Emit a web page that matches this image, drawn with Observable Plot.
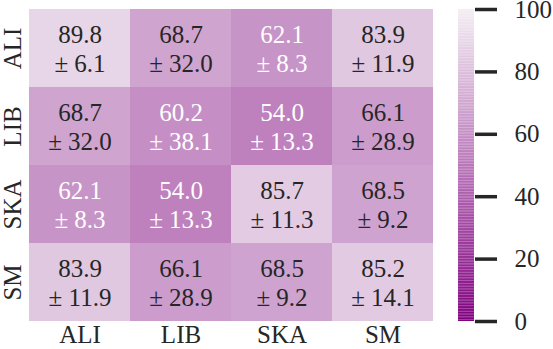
<!DOCTYPE html>
<html>
<head>
<meta charset="utf-8">
<script src="https://cdn.jsdelivr.net/npm/d3@7"></script>
<script src="https://cdn.jsdelivr.net/npm/@observablehq/plot@0.6"></script>
<style>
  html, body { margin: 0; padding: 0; background: #fff; }
  #wrap { position: relative; width: 553px; height: 349px; overflow: hidden; }
  #wrap svg { position: absolute; top: 0; overflow: visible; font-family: "Liberation Serif", "DejaVu Serif", serif; }
</style>
</head>
<body>
<div id="wrap"></div>
<script>
const rows = ["ALI", "LIB", "SKA", "SM"];
const cols = ["ALI", "LIB", "SKA", "SM"];
const meanALI = [89.8, 68.7, 62.1, 83.9];
const meanLIB = [68.7, 60.2, 54.0, 66.1];
const meanSKA = [62.1, 54.0, 85.7, 68.5];
const meanSM  = [83.9, 66.1, 68.5, 85.2];
const stdALI = [6.1, 32.0, 8.3, 11.9];
const stdLIB = [32.0, 38.1, 13.3, 28.9];
const stdSKA = [8.3, 13.3, 11.3, 9.2];
const stdSM  = [11.9, 28.9, 9.2, 14.1];
const colorbarTicks = [0, 20, 40, 60, 80, 100];

const means = [meanALI, meanLIB, meanSKA, meanSM];
const stds = [stdALI, stdLIB, stdSKA, stdSM];
const data = [];
rows.forEach((r, i) => cols.forEach((c, j) => data.push({row: r, col: c, mean: means[i][j], std: stds[i][j]})));

const colorScale = {type: "linear", domain: [0, 100], range: ["#800080", "#f3eef3"], interpolate: "rgb"};
const interp = d3.interpolateRgb("#800080", "#f3eef3");
function lum(v) {
  const c = d3.rgb(interp(v / 100));
  const f = x => { x /= 255; return x <= 0.03928 ? x / 12.92 : Math.pow((x + 0.055) / 1.055, 2.4); };
  return 0.2126 * f(c.r) + 0.7152 * f(c.g) + 0.0722 * f(c.b);
}
const textColor = d => lum(d.mean) > 0.408 ? "#262626" : "#ffffff";
const FS = 25;

const heat = Plot.plot({
  width: 440, height: 349,
  marginLeft: 28, marginRight: 6, marginTop: 9, marginBottom: 28,
  style: {fontFamily: "Liberation Serif", fontSize: FS + "px", color: "#262626", background: "transparent"},
  x: {type: "band", domain: cols, padding: 0, label: null},
  y: {type: "band", domain: rows, padding: 0, label: null},
  color: colorScale,
  marks: [
    Plot.cell(data, {x: "col", y: "row", fill: "mean", inset: 0}),
    Plot.text(data, {
      x: "col", y: "row",
      text: d => `${d.mean.toFixed(1)}\n± ${d.std.toFixed(1)}`,
      fill: textColor, fontSize: FS, lineHeight: 1.15
    }),
    Plot.axisX({anchor: "bottom", tickSize: 0, tickPadding: 4, fontSize: FS, label: null}),
    Plot.axisY({anchor: "left", tickSize: 0, tickPadding: 8, tickRotate: -90, fontSize: FS, label: null})
  ]
});
heat.style.left = "0px";
document.getElementById("wrap").appendChild(heat);

const steps = d3.range(0, 100, 0.5);
const bar = Plot.plot({
  width: 113, height: 349,
  marginLeft: 18, marginRight: 79, marginTop: 9, marginBottom: 28,
  style: {fontFamily: "Liberation Serif", fontSize: FS + "px", color: "#262626", background: "transparent"},
  x: {domain: [0, 1], axis: null},
  y: {domain: [0, 100], label: null},
  color: colorScale,
  marks: [
    Plot.rect(steps, {x1: 0, x2: 1, y1: d => d, y2: d => d + 0.5, fill: d => d + 0.25, inset: 0}),
    Plot.axisY({anchor: "right", ticks: colorbarTicks, tickSize: 22, tickPadding: 18, strokeWidth: 3.5, fontSize: FS, tickFormat: d => String(d), label: null})
  ]
});
bar.style.left = "440px";
document.getElementById("wrap").appendChild(bar);
</script>
</body>
</html>
